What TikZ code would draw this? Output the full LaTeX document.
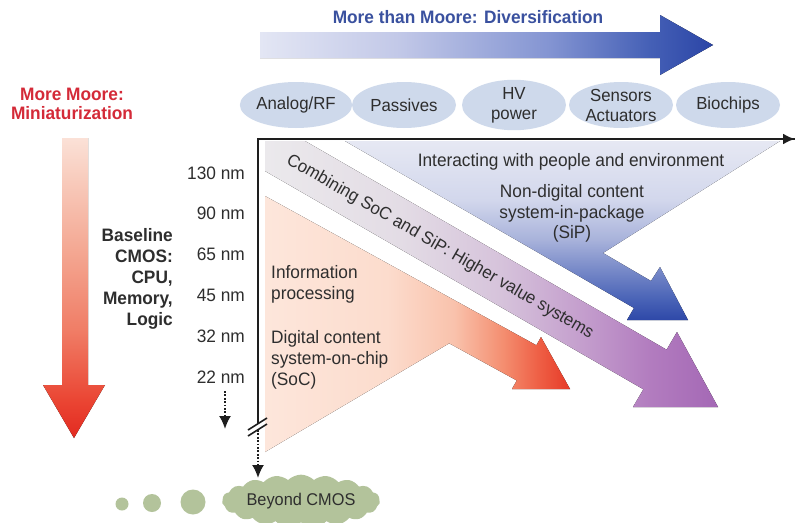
\documentclass[tikz,border=0pt]{standalone}
\usepackage{fontspec}
\setmainfont{Liberation Sans}[FakeStretch=0.96]
\usetikzlibrary{shapes.geometric,shapes.symbols,arrows.meta}

\definecolor{txt}{HTML}{2E2E2E}
\definecolor{mtmblue}{HTML}{3A519F}
\definecolor{mmred}{HTML}{D42A38}
\definecolor{ellfill}{HTML}{CED9EB}
\definecolor{cloudg}{HTML}{B3C39B}
\definecolor{axisc}{HTML}{1E1E1E}
% top arrow
\definecolor{ta1}{HTML}{E3E6F4}\definecolor{ta2}{HTML}{C3C9E8}\definecolor{ta3}{HTML}{8394D2}
\definecolor{ta4}{HTML}{4560B6}\definecolor{ta5}{HTML}{2B45A6}
% left red arrow
\definecolor{ra1}{HTML}{E22A20}\definecolor{ra2}{HTML}{EA4432}\definecolor{ra3}{HTML}{F07D66}
\definecolor{ra4}{HTML}{F4AA95}\definecolor{ra5}{HTML}{F8CBBC}\definecolor{ra6}{HTML}{FBE1D7}
% peach
\definecolor{pe1}{HTML}{FDE6DB}\definecolor{pe2}{HTML}{FCDCCD}\definecolor{pe3}{HTML}{F9C2AC}
\definecolor{pe4}{HTML}{F48E70}\definecolor{pe5}{HTML}{EE5E44}\definecolor{pe6}{HTML}{E63A28}
% purple
\definecolor{pu1}{HTML}{EBE9EC}\definecolor{pu2}{HTML}{E3DCE5}\definecolor{pu3}{HTML}{D6C3DB}
\definecolor{pu4}{HTML}{C49ECD}\definecolor{pu5}{HTML}{B27CBF}\definecolor{pu6}{HTML}{A468B5}
% blue
\definecolor{bl1}{HTML}{2E48A8}\definecolor{bl2}{HTML}{4862B6}\definecolor{bl3}{HTML}{7789C8}
\definecolor{bl4}{HTML}{A9B3DB}\definecolor{bl5}{HTML}{D2D7EC}\definecolor{bl6}{HTML}{E6E8F3}

\pgfdeclarehorizontalshading{topArrowShade}{100bp}{color(0bp)=(ta1); color(25bp)=(ta1); color(40bp)=(ta2); color(57bp)=(ta3); color(68bp)=(ta4); color(75bp)=(ta5); color(100bp)=(ta5)}
\pgfdeclareverticalshading{redArrowShade}{100bp}{color(0bp)=(ra1); color(25bp)=(ra1); color(31bp)=(ra2); color(43bp)=(ra3); color(57bp)=(ra4); color(68bp)=(ra5); color(75bp)=(ra6); color(100bp)=(ra6)}
\pgfdeclarehorizontalshading{peachShade}{100bp}{color(0bp)=(pe1); color(25bp)=(pe1); color(45bp)=(pe2); color(56bp)=(pe3); color(64bp)=(pe4); color(70bp)=(pe5); color(75bp)=(pe6); color(100bp)=(pe6)}
\pgfdeclarehorizontalshading{purpleShade}{100bp}{color(0bp)=(pu1); color(25bp)=(pu1); color(40bp)=(pu2); color(51bp)=(pu3); color(60bp)=(pu4); color(67.5bp)=(pu5); color(75bp)=(pu6); color(100bp)=(pu6)}
\pgfdeclareverticalshading{blueShade}{100bp}{color(0bp)=(bl1); color(25bp)=(bl1); color(30.6bp)=(bl2); color(39bp)=(bl3); color(47.6bp)=(bl4); color(58.5bp)=(bl5); color(75bp)=(bl6); color(100bp)=(bl6)}

\tikzset{
  lbl/.style={inner sep=0pt, text=txt, font=\fontsize{18}{21}\selectfont},
  nmlbl/.style={lbl, anchor=east},
  boldlbl/.style={inner sep=0pt, font=\bfseries\fontsize{18}{21}\selectfont},
  ell/.style={ellipse, fill=ellfill, minimum width=104pt, minimum height=46pt, inner sep=0pt,
    text=txt, align=center, font=\fontsize{17.5}{20}\selectfont},
  dot/.style={circle, fill=cloudg, inner sep=0pt},
  axisline/.style={draw=axisc, line width=2.2pt},
  dotarrow/.style={draw=axisc, line width=2pt, dash pattern=on 1.8pt off 1.6pt,
    -{Latex[length=13pt,width=12pt]}},
}

\begin{document}
\begin{tikzpicture}[x=1pt,y=-1pt]
\useasboundingbox (0,0) rectangle (795,522);
\fill[white] (0,0) rectangle (795,522);

% blue region (non-digital content)
\fill[shading=blueShade] (345,141) -- (780,141) -- (603,253) -- (651,281) -- (660,267)
  -- (688,320) -- (627,320) -- (634,308) -- cycle;
% purple band
\fill[shading=purpleShade] (265,141) -- (305,141) -- (666.6,349.7) -- (677,332) -- (718,407)
  -- (633,407) -- (643.4,389.3) -- (265,171) -- cycle;
% peach region (digital content)
\fill[shading=peachShade] (265,196) -- (536.4,345.3) -- (541,337) -- (570,389) -- (512,389)
  -- (516.8,380.5) -- (449.2,343.3) -- (265,452) -- cycle;

% top arrow
\fill[shading=topArrowShade] (260,32) -- (660,32) -- (660,15) -- (713,45) -- (660,75)
  -- (660,58) -- (260,58) -- cycle;
% left red arrow
\fill[shading=redArrowShade] (62,138) -- (88,138) -- (88,385) -- (105,385) -- (74,438)
  -- (43,385) -- (62,385) -- cycle;

% titles
\node[boldlbl, text=mtmblue] (mtm) at (468,17) {More than Moore: Diversification};
\node[boldlbl, text=mmred, align=center, font=\bfseries\fontsize{18}{19.5}\selectfont] (mm) at (72,104) {More Moore:\\Miniaturization};

% ellipses
\node[ell] (e1) at (296,105) {Analog/RF};
\node[ell] (e2) at (404,105) {Passives};
\node[ell] (e3) at (514,105) {HV\\power};
\node[ell] (e4) at (621,105) {Sensors\\Actuators};
\node[ell] (e5) at (728,105) {Biochips};

% axes
\coordinate (O) at (258,139);
\coordinate (xend) at (795,139);
\coordinate (ybrk) at (258,423.7);
\coordinate (ybrk2) at (258,430);
\coordinate (yend) at (258,478);
\draw[axisline, line join=miter] (ybrk) -- (O) -- (xend);
\draw[axisline, -{Latex[length=12pt,width=11pt]}] (O) -- (xend);
\coordinate (b1a) at (248,430); \coordinate (b1b) at (267,418);
\coordinate (b2a) at (248,436); \coordinate (b2b) at (267,424);
\draw[axisc, line width=1.6pt] (b1a) -- (b1b);
\draw[axisc, line width=1.6pt] (b2a) -- (b2b);
\draw[dotarrow] (ybrk2) -- (yend);
\coordinate (s1) at (225,391);
\coordinate (s2) at (225,429);
\draw[dotarrow] (s1) -- (s2);

% node sizes
\node[nmlbl] (n130) at (245,173) {130 nm};
\node[nmlbl] (n90) at (245,213) {90 nm};
\node[nmlbl] (n65) at (245,254) {65 nm};
\node[nmlbl] (n45) at (245,295) {45 nm};
\node[nmlbl] (n32) at (245,336) {32 nm};
\node[nmlbl] (n22) at (245,377) {22 nm};
\node[boldlbl, text=txt, align=right, anchor=north east] (base) at (173,228.5) {Baseline\\CMOS:\\CPU,\\Memory,\\Logic};

% region texts
\node[lbl, anchor=north] (inter) at (571,153.5) {Interacting with people and environment};
\node[lbl, anchor=north, align=center, font=\fontsize{18}{20.5}\selectfont] (sip) at (572,184.5) {Non-digital content\\system-in-package\\(SiP)};
\node[lbl, anchor=north west, align=left] (info) at (271,265.5) {Information\\processing};
\node[lbl, anchor=north west, align=left] (soc) at (271,330.5) {Digital content\\system-on-chip\\(SoC)};
\node[lbl, rotate=-30, font=\fontsize{17.5}{20}\selectfont] (comb) at (440,247) {Combining SoC and SiP: Higher value systems};

% beyond CMOS
\node[dot, minimum size=13pt] (d1) at (122,504) {};
\node[dot, minimum size=18pt] (d2) at (152,503) {};
\node[dot, minimum size=25pt] (d3) at (193,502) {};
\node[cloud, cloud puffs=19, cloud puff arc=90, aspect=3.6, fill=cloudg, inner sep=0pt,
  minimum width=158pt, minimum height=50pt, text=txt, font=\fontsize{17}{20}\selectfont] (bc) at (301,501) {Beyond CMOS};
\end{tikzpicture}
\end{document}
